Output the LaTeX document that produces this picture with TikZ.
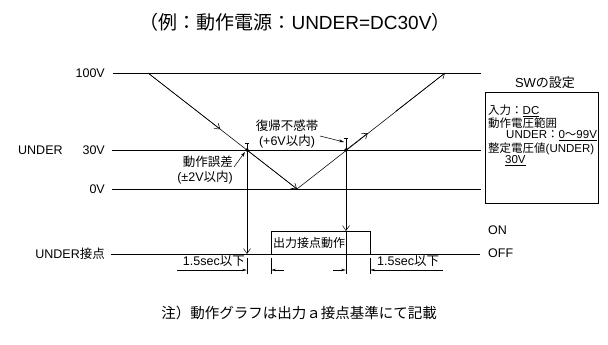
\documentclass[tikz,border=0pt]{standalone}
\usepackage{fontspec}
\setmainfont{Liberation Sans}
\newfontfamily\jpfont{Noto Sans CJK JP}
\newcommand{\jp}[1]{{\jpfont #1}}
\usetikzlibrary{arrows.meta,calc}
\tikzset{
	lbl/.style={font=\fontsize{12.5}{12.5}\selectfont, inner sep=0pt},
	boxtxt/.style={font=\fontsize{11.5}{11.5}\selectfont, inner sep=0pt, anchor=west},
	level/.style={line width=0.8pt},
	slope/.style={line width=0.55pt},
	vee/.style={-{Straight Barb[length=5pt,width=7pt]}},
	dimarr/.style={line width=0.5pt, -{Stealth[length=5pt,width=2.4pt]}},
	lead/.style={line width=0.5pt, -{Stealth[length=5pt,width=3pt]}},
	ext/.style={line width=0.5pt},
}

\begin{document}
\begin{tikzpicture}[x=1pt, y=-1pt]
			%%%%% START %%%%%
			\useasboundingbox (0,0) rectangle (608,345);
			
			\node[font=\fontsize{19}{19}\selectfont, inner sep=0pt] (title) at (295,22) {\jp{（例：動作電源：}UNDER=DC30V\jp{）}};
			
			% levels
			\draw[level] (113,73) -- (481,73);
			\draw[level] (112,150) -- (481,150);
			\draw[level] (112,189) -- (481,189);
			\draw[level] (111,254) -- (480,254);
			
			\node[lbl, anchor=east] (v100) at (105,73) {100V};
			\node[lbl, anchor=east] (v30) at (105,150) {30V};
			\node[lbl, anchor=west] (under) at (18,150) {UNDER};
			\node[lbl, anchor=east] (v0) at (105,189) {0V};
			\node[lbl, anchor=east] (contact) at (105,254) {UNDER\jp{接点}};
			\node[lbl, anchor=west] (on) at (488,230) {ON};
			\node[lbl, anchor=west] (off) at (488,253) {OFF};
			
			% voltage curve
			\coordinate (p0) at (148,73);
			\coordinate (a1) at (247,150);
			\coordinate (vb) at (297,189);
			\coordinate (a2) at (346,150);
			\coordinate (p1) at (445,73);
			\draw[slope] (p0) -- (vb) -- (p1);
			\draw[slope, vee] (p0) -- ($(p0)!0.73!(a1)$);
			\draw[slope, vee] (a1) -- (vb);
			\draw[slope, vee] (a2) -- ($(a2)!0.22!(p1)$);
			\draw[slope, vee] ($(a2)!0.5!(p1)$) -- (p1);
			\fill (a1) circle (1.8);
			\fill (a2) circle (1.8);
			
			% output contact
			\draw[level] (271,254) -- (271,231) -- (370,231) -- (370,254);
			\node[lbl, font=\fontsize{12}{12}\selectfont, anchor=west] (act) at (273,243) {\jp{出力接点動作}};
			
			\draw[ext, {Bar[width=4pt]}-{Straight Barb[length=5pt,width=7pt]}] (247,143) -- (247,254);
			\draw[ext, {Bar[width=4pt]}-{Straight Barb[length=5pt,width=7pt]}] (346,138) -- (346,231);
			\draw[ext] (346,231) -- (346,274);
			\draw[ext] (247,258) -- (247,274);
			\draw[ext] (271,258) -- (271,274);
			\draw[ext] (370,258) -- (370,274);
			
			\draw[dimarr] (177,270) -- (247,270);
			\draw[dimarr] (284,270) -- (271,270);
			\draw[dimarr] (333,270) -- (346,270);
			\draw[dimarr] (443,270) -- (370,270);
			\node[lbl, anchor=south east] (t1) at (245,267) {1.5sec\jp{以下}};
			\node[lbl, anchor=south west] (t2) at (377,267) {1.5sec\jp{以下}};
			
			% leaders
			\node[lbl, align=right, anchor=east] (err) at (233,170) {\jp{動作誤差}\\[3pt](±2V\jp{以内})};
			\coordinate (e0) at (234,167);
			\draw[lead] (e0) -- (245,152);
			\node[lbl, align=center] (dead) at (287,134) {\jp{復帰不感帯}\\[2pt](+6V\jp{以内})};
			\coordinate (d0) at (320,136);
			\draw[lead] (d0) -- (344,142);
			
			% SW box
			\node[lbl, font=\fontsize{13}{13}\selectfont] (swt) at (545,83) {SW\jp{の設定}};
			\draw[level] (485,92) rectangle (598,203);
			\node[boxtxt] (in) at (488,111) {\jp{入力：}\underline{DC}};
			\node[boxtxt] (rng) at (488,123) {\jp{動作電圧範囲}};
			\node[boxtxt] (rngu) at (506,136) {UNDER\jp{：}\underline{0\jp{～}99V}};
			\node[boxtxt] (set) at (488,149) {\jp{整定電圧値}(UNDER)};
			\node[boxtxt] (setv) at (505,161) {\underline{30V}};
			
			\node[font=\fontsize{14.5}{14.5}\selectfont, inner sep=0pt] (note) at (299,313) {\jp{注）動作グラフは出力ａ接点基準にて記載}};
			%%%%% END %%%%%
\end{tikzpicture}
\end{document}
